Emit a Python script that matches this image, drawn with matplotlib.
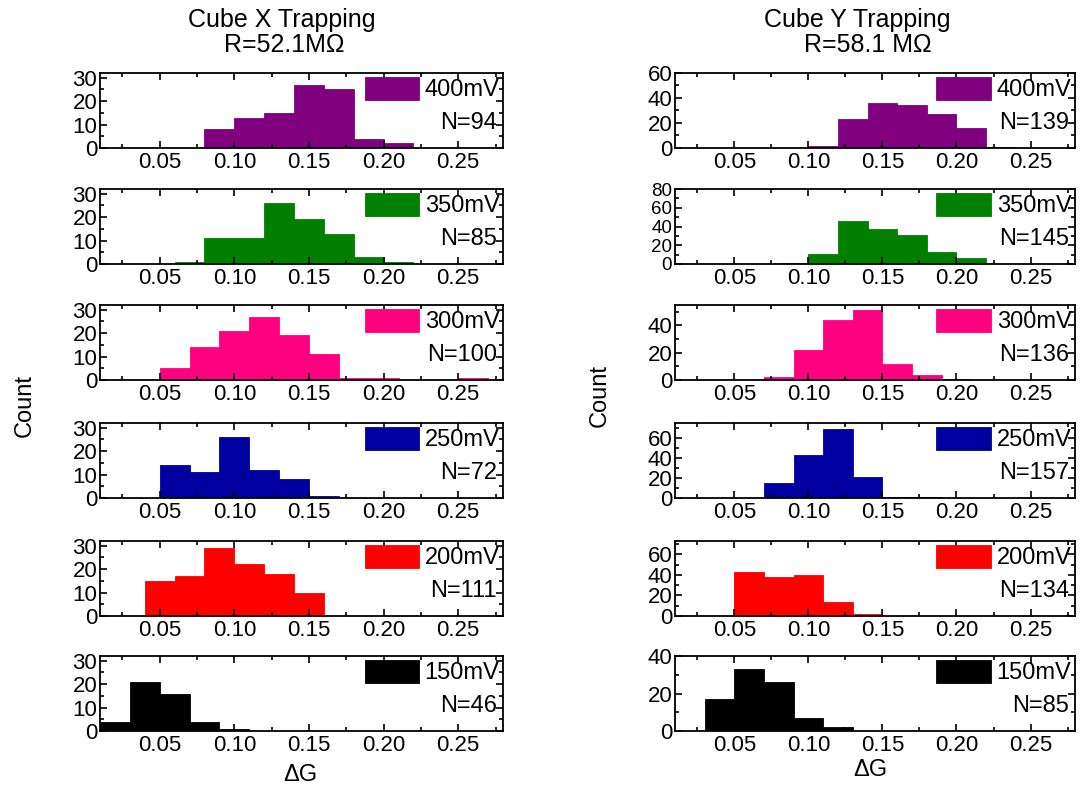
import matplotlib
matplotlib.use('Agg')
import matplotlib.pyplot as plt
from matplotlib.ticker import MultipleLocator

plt.rcParams['font.family'] = ['Liberation Sans', 'DejaVu Sans']

# bin width of all histograms
bin_w = 0.02

# Cube X trapping: first bin edge and counts per voltage
x_labels = ['400mV', '350mV', '300mV', '250mV', '200mV', '150mV']
x_n = [94, 85, 100, 72, 111, 46]
x_starts = [0.08, 0.06, 0.05, 0.05, 0.04, 0.01]
x400 = [8, 13, 15, 27, 25, 4, 2]
x350 = [1, 11, 11, 26, 19, 13, 3, 1]
x300 = [5, 14, 21, 27, 19, 11, 1, 1, 0, 0, 1]
x250 = [14, 11, 26, 12, 8, 1]
x200 = [15, 17, 29, 22, 18, 10]
x150 = [4, 21, 16, 4, 1]

# Cube Y trapping
y_labels = ['400mV', '350mV', '300mV', '250mV', '200mV', '150mV']
y_n = [139, 145, 136, 157, 134, 85]
y_starts = [0.10, 0.08, 0.07, 0.07, 0.05, 0.03]
y400 = [2, 23, 36, 34, 27, 16, 1]
y350 = [1, 11, 46, 37, 31, 13, 6]
y300 = [2, 22, 44, 51, 12, 4, 1]
y250 = [15, 43, 69, 21, 1, 1]
y200 = [43, 38, 40, 14, 2]
y150 = [17, 33, 26, 7, 2]

colors = ['#800080', '#007f00', '#ff0080', '#0000a0', '#ff0000', '#000000']

x_counts = [x400, x350, x300, x250, x200, x150]
y_counts = [y400, y350, y300, y250, y200, y150]

# y-axis limits / tick steps per panel
x_ylims = [32, 32, 32, 32, 32, 32]
x_ysteps = [10] * 6
y_ylims = [60, 80, 55, 75, 73, 40]
y_ysteps = [20] * 6

W, H = 1082, 797
fig = plt.figure(figsize=(W / 100, H / 100), dpi=100)

tops = [73, 189, 305, 423, 541, 656]
panel_h = 75
fs = 16


def draw_panel(x0, x1, top, counts, start, color, label, n, ylim, ystep):
    ax = fig.add_axes([x0 / W, 1 - (top + panel_h) / H, (x1 - x0) / W, panel_h / H])
    edges = [start + i * bin_w for i in range(len(counts))]
    ax.bar(edges, counts, width=bin_w, align='edge', color=color,
           edgecolor=color, linewidth=0.6, label=label)
    ax.set_xlim(0.01, 0.28)
    ax.set_ylim(0, ylim)
    ax.xaxis.set_major_locator(MultipleLocator(0.05))
    ax.xaxis.set_minor_locator(MultipleLocator(0.025))
    ax.yaxis.set_major_locator(MultipleLocator(ystep))
    ax.yaxis.set_minor_locator(MultipleLocator(ystep / 2))
    ax.xaxis.set_major_formatter(plt.FuncFormatter(lambda v, p: f'{v:.2f}'))
    ax.tick_params(which='both', direction='in', top=True, right=True,
                   labelsize=fs, width=1.2)
    ax.tick_params(which='major', length=5, pad=3)
    ax.tick_params(which='minor', length=3)
    # only the 0-80 panel needs smaller y labels to keep them apart
    ylab_size = fs if ylim / ystep < 3.9 else 13.5
    ax.tick_params(axis='y', pad=2, labelsize=ylab_size)
    for s in ax.spines.values():
        s.set_linewidth(1.3)
    ax.legend(loc='upper right', frameon=False, fontsize=fs + 1,
              handlelength=2.3, handleheight=1.15, handletextpad=0.25,
              borderaxespad=0.05, borderpad=0.1)
    ax.text(0.985, 0.33, f'N={n}', transform=ax.transAxes, ha='right',
            va='center', fontsize=fs + 1)
    return ax


for i in range(6):
    draw_panel(100, 503, tops[i], x_counts[i], x_starts[i], colors[i],
               x_labels[i], x_n[i], x_ylims[i], x_ysteps[i])
    draw_panel(675, 1075, tops[i], y_counts[i], y_starts[i], colors[i],
               y_labels[i], y_n[i], y_ylims[i], y_ysteps[i])

# column titles and axis labels
fig.text(282 / W, 1 - 20 / H, 'Cube X Trapping', ha='center', va='center', fontsize=18)
fig.text(284 / W, 1 - 45 / H, 'R=52.1M\u03a9', ha='center', va='center', fontsize=18)
fig.text(857 / W, 1 - 20 / H, 'Cube Y Trapping', ha='center', va='center', fontsize=18)
fig.text(868 / W, 1 - 45 / H, 'R=58.1 M\u03a9', ha='center', va='center', fontsize=18)

fig.text(25 / W, 1 - 405 / H, 'Count', rotation=90, ha='center', va='center', fontsize=fs + 1)
fig.text(600 / W, 1 - 395 / H, 'Count', rotation=90, ha='center', va='center', fontsize=fs + 1)
fig.text(300 / W, 1 - 775 / H, '\u0394G', ha='center', va='center', fontsize=fs + 1)
fig.text(870 / W, 1 - 770 / H, '\u0394G', ha='center', va='center', fontsize=fs + 1)

fig.savefig('out.png', dpi=100)
